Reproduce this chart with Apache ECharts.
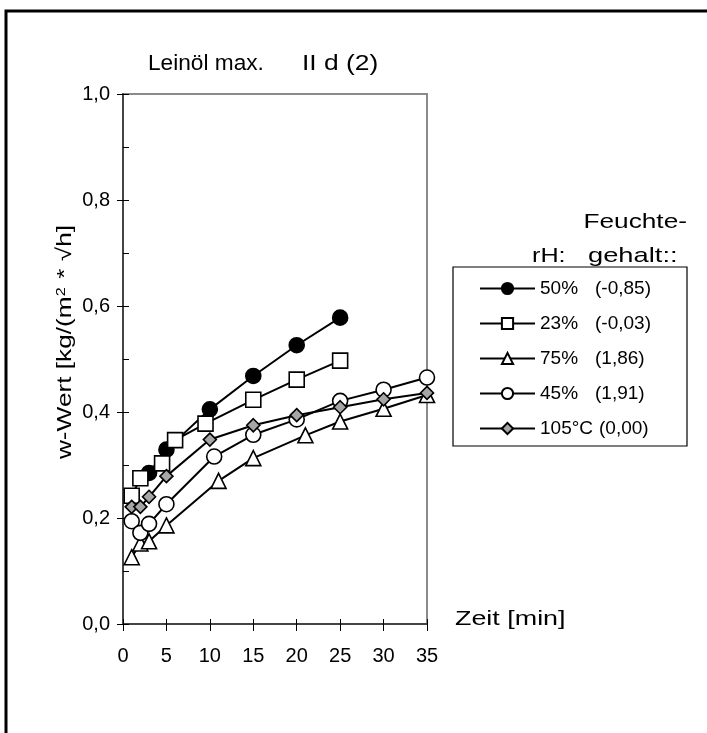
<!DOCTYPE html>
<html>
<head>
<meta charset="utf-8">
<script src="https://cdn.jsdelivr.net/npm/echarts@6/dist/echarts.min.js"></script>
<style>
  html, body { margin: 0; padding: 0; background: #fff; }
  #chart { width: 707px; height: 733px; }
</style>
</head>
<body>
<div id="chart"></div>
<script>
// Water uptake coefficient (w-Wert) over time, linseed oil, sample II d (2)
const rhLabels = ['50%', '23%', '75%', '45%', '105°C'];
const moistLabels = ['(-0,85)', '(-0,03)', '(1,86)', '(1,91)', '(0,00)'];

const t50 = [3, 5, 10, 15, 20, 25];
const w50 = [0.285, 0.329, 0.405, 0.468, 0.526, 0.578];

const t23 = [1, 2, 4.5, 6, 9.5, 15, 20, 25];
const w23 = [0.242, 0.275, 0.303, 0.347, 0.378, 0.423, 0.461, 0.497];

const t75 = [1, 2, 3, 5, 11, 15, 21, 25, 30, 35];
const w75 = [0.126, 0.152, 0.156, 0.186, 0.270, 0.313, 0.356, 0.382, 0.406, 0.432];

const t45 = [1, 2, 3, 5, 10.5, 15, 20, 25, 30, 35];
const w45 = [0.194, 0.172, 0.189, 0.226, 0.316, 0.357, 0.386, 0.421, 0.442, 0.465];

const t105 = [1, 2, 3, 5, 10, 15, 20, 25, 30, 35];
const w105 = [0.221, 0.221, 0.240, 0.279, 0.348, 0.375, 0.394, 0.409, 0.424, 0.436];

const xTicks = [0, 5, 10, 15, 20, 25, 30, 35];
const yTicks = [0, 0.2, 0.4, 0.6, 0.8, 1.0];

const FONT = '"Liberation Sans", Arial, sans-serif';
const pair = (xs, ys) => xs.map((x, i) => [x, ys[i]]);

const markers = [
  { symbol: 'circle', size: 15, fill: '#000' },
  { symbol: 'rect', size: 15, fill: '#fff' },
  { symbol: 'triangle', size: 15, fill: '#fff' },
  { symbol: 'circle', size: 15, fill: '#fff' },
  { symbol: 'diamond', size: 13, fill: '#a6a6a6' }
];
const seriesData = [pair(t50, w50), pair(t23, w23), pair(t75, w75), pair(t45, w45), pair(t105, w105)];

const series = seriesData.map((d, i) => ({
  name: rhLabels[i],
  type: 'line',
  xAxisIndex: 0,
  yAxisIndex: 0,
  data: d,
  z: 3 + i,
  symbol: markers[i].symbol,
  symbolSize: markers[i].size,
  lineStyle: { color: '#000', width: 2 },
  itemStyle: { color: markers[i].fill, borderColor: '#000', borderWidth: 1.6, opacity: 1 },
  emphasis: { disabled: true },
  animation: false
}));

// wide text pieces (stretched horizontally like the rest of the sheet lettering)
const stretchedText = (txt, x, y, size, sx, align) => ({
  type: 'text', silent: true, x: x, y: y, scaleX: sx,
  style: { text: txt, font: size + 'px ' + FONT, fill: '#000', align: align || 'left', verticalAlign: 'middle' }
});

const chart = echarts.init(document.getElementById('chart'), null, { renderer: 'canvas' });
chart.setOption({
  backgroundColor: '#fff',
  animation: false,
  textStyle: { fontFamily: FONT },
  grid: {
    left: 123, right: 280, top: 94, bottom: 109,
    show: true, borderColor: '#8a8a8a', borderWidth: 2, backgroundColor: 'transparent'
  },
  xAxis: [{
    type: 'value', min: 0, max: 35, interval: 5,
    axisLine: { lineStyle: { color: '#444', width: 2 } },
    axisTick: { show: true, length: 7, lineStyle: { color: '#000', width: 1 } },
    axisLabel: { fontSize: 20, color: '#000', margin: 22, fontFamily: FONT,
      formatter: v => xTicks.includes(v) ? String(v) : '' },
    splitLine: { show: false }
  }, {
    type: 'value', min: 0, max: 35, interval: 5, position: 'bottom',
    axisLine: { show: false },
    axisTick: { show: true, inside: true, length: 5, lineStyle: { color: '#000', width: 1 } },
    axisLabel: { show: false }, splitLine: { show: false }
  }],
  yAxis: [{
    type: 'value', min: 0, max: 1, interval: 0.2,
    axisLine: { show: true, lineStyle: { color: '#444', width: 2 } },
    axisTick: { show: true, length: 6, lineStyle: { color: '#000', width: 1 } },
    axisLabel: { fontSize: 20, color: '#000', margin: 13, fontFamily: FONT,
      formatter: v => yTicks.some(t => Math.abs(t - v) < 1e-9) ? v.toFixed(1).replace('.', ',') : '' },
    splitLine: { show: false }
  }, {
    type: 'value', min: 0, max: 1, interval: 0.1, position: 'left',
    axisLine: { show: false },
    axisTick: { show: true, inside: true, length: 6, lineStyle: { color: '#000', width: 1 } },
    axisLabel: { show: false }, splitLine: { show: false }
  }],
  legend: {
    orient: 'vertical', left: 474, top: 274,
    itemWidth: 55, itemHeight: 14, itemGap: 16,
    data: rhLabels,
    selectedMode: false,
    formatter: name => {
      const i = rhLabels.indexOf(name);
      const first = rhLabels[i].length > 3 ? '{c|' + rhLabels[i] + '}' : '{a|' + rhLabels[i] + '}';
      return first + '{b|' + moistLabels[i] + '}';
    },
    textStyle: {
      color: '#000', fontFamily: FONT, fontSize: 19,
      rich: {
        a: { width: 55, fontSize: 19, fontFamily: FONT, color: '#000' },
        c: { fontSize: 19, fontFamily: FONT, color: '#000', padding: [0, 6, 0, 0] },
        b: { fontSize: 19, fontFamily: FONT, color: '#000' }
      }
    }
  },
  graphic: [
    { type: 'rect', silent: true, z: 100,
      shape: { x: 6, y: 11, width: 740, height: 760 },
      style: { fill: 'none', stroke: '#000', lineWidth: 3 } },
    { type: 'rect', silent: true, z: 1,
      shape: { x: 453, y: 267, width: 234, height: 179 },
      style: { fill: '#fff', stroke: '#000', lineWidth: 1.2 } },
    stretchedText('Leinöl max.', 148, 64, 22, 1.03),
    stretchedText('II d (2)', 302, 64, 22, 1.2),
    stretchedText('Feuchte-', 687, 222, 21, 1.25, 'right'),
    stretchedText('rH:', 532, 256, 21, 1.2),
    stretchedText('gehalt::', 588, 256, 21, 1.3),
    stretchedText('Zeit [min]', 455, 619, 21, 1.28),
    { type: 'text', silent: true, x: 65, y: 342, rotation: Math.PI / 2, scaleX: 1.25,
      style: {
        text: 'w-Wert [kg/(m{sup|2} * √h]',
        font: '21px ' + FONT, fill: '#000',
        align: 'center', verticalAlign: 'middle',
        rich: { sup: { fontSize: 13, fontFamily: FONT, verticalAlign: 'top', padding: [0, 1, 8, 0], fill: '#000' } }
      } }
  ],
  series: series
});
</script>
</body>
</html>
